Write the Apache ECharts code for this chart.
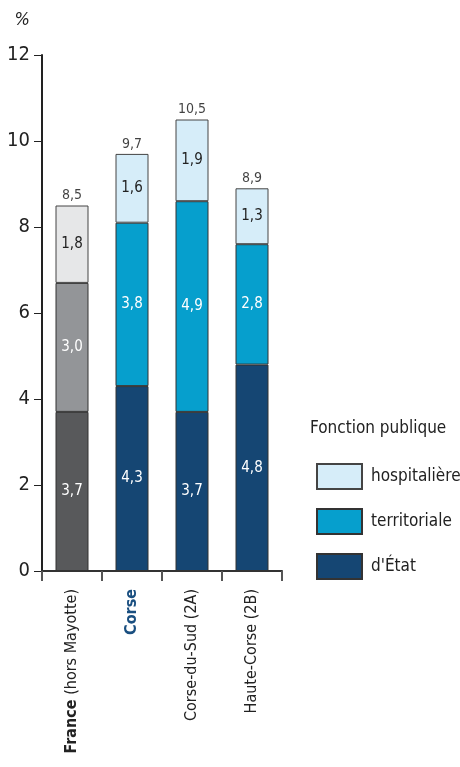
<!DOCTYPE html>
<html>
<head>
<meta charset="utf-8">
<script src="https://cdn.jsdelivr.net/npm/echarts@6/dist/echarts.min.js"></script>
<style>
html, body { margin: 0; padding: 0; background: #fff; }
#chart { width: 460px; height: 767px; }
</style>
</head>
<body>
<div id="chart"></div>
<script>
var categories = ['France (hors Mayotte)', 'Corse', 'Corse-du-Sud (2A)', 'Haute-Corse (2B)'];
var etatValues = [3.7, 4.3, 3.7, 4.8];
var territorialeValues = [3.0, 3.8, 4.9, 2.8];
var hospitaliereValues = [1.8, 1.6, 1.9, 1.3];
var totalValues = [8.5, 9.7, 10.5, 8.9];
var yTicks = [0, 2, 4, 6, 8, 10, 12];

var fontFam = "'Liberation Sans Narrow', 'DejaVu Sans Condensed', sans-serif";
var franceColors = ['#58595b', '#939598', '#e6e7e8'];

function fmt(v) {
    return String(v.toFixed(1)).replace('.', ',');
}

function makeData(values, idx) {
    return values.map(function (v, i) {
        if (i === 0) {
            return {
                value: v,
                itemStyle: { color: franceColors[idx] },
                label: { color: idx === 2 ? '#222' : '#fff' }
            };
        }
        return v;
    });
}

var chart = echarts.init(document.getElementById('chart'));
var option = {
    animation: false,
    textStyle: { fontFamily: fontFam },
    grid: {
        left: 42,
        right: 178,
        top: 55,
        bottom: 196,
        containLabel: false
    },
    legend: {
        orient: 'vertical',
        left: 311,
        top: 458,
        icon: 'rect',
        itemWidth: 45,
        itemHeight: 25,
        itemGap: 18,
        data: ['hospitalière', 'territoriale', "d'État"],
        textStyle: { fontFamily: fontFam, fontSize: 17, color: '#222', padding: [0, 0, 0, 4] },
        selectedMode: false
    },
    graphic: [{
        type: 'text',
        left: 310,
        top: 420,
        style: { text: 'Fonction publique', fontFamily: fontFam, fontSize: 17, fill: '#222' }
    }],
    xAxis: {
        type: 'category',
        data: categories,
        axisLine: { lineStyle: { color: '#333', width: 2 } },
        axisTick: { show: true, length: 10, lineStyle: { color: '#555', width: 2 } },
        axisLabel: {
            rotate: 90,
            margin: 18,
            fontSize: 16,
            color: '#222',
            fontFamily: fontFam,
            formatter: function (v) {
                if (v === 'Corse') return '{c|Corse}';
                if (v.indexOf('France') === 0) return '{b|France} (hors Mayotte)';
                return v;
            },
            rich: {
                b: { fontWeight: 'bold', fontSize: 16, color: '#222', fontFamily: fontFam },
                c: { fontWeight: 'bold', fontSize: 16, color: '#1a4f80', fontFamily: fontFam }
            }
        }
    },
    yAxis: {
        type: 'value',
        min: 0,
        max: 12,
        interval: 2,
        name: '%',
        nameLocation: 'end',
        nameGap: 26,
        nameTextStyle: { fontSize: 18, color: '#222', fontStyle: 'italic', align: 'right', padding: [0, 12, 0, 0], fontFamily: fontFam },
        axisLine: { show: true, lineStyle: { color: '#222', width: 2 } },
        axisTick: { show: true, length: 8, lineStyle: { color: '#222', width: 1 } },
        splitLine: { show: false },
        axisLabel: {
            margin: 12,
            fontSize: 20,
            color: '#222',
            fontFamily: fontFam,
            formatter: function (v) { return yTicks.indexOf(v) >= 0 ? String(v) : ''; }
        }
    },
    series: [{
        name: "d'État",
        type: 'bar',
        stack: 'fp',
        barWidth: 33,
        itemStyle: { color: '#154673', borderColor: '#333', borderWidth: 1 },
        label: { show: true, position: 'inside', color: '#fff', fontSize: 15, fontFamily: fontFam, formatter: function (p) { return fmt(p.value); } },
        data: makeData(etatValues, 0)
    }, {
        name: 'territoriale',
        type: 'bar',
        stack: 'fp',
        barWidth: 33,
        itemStyle: { color: '#069fcd', borderColor: '#333', borderWidth: 1 },
        label: { show: true, position: 'inside', color: '#fff', fontSize: 15, fontFamily: fontFam, formatter: function (p) { return fmt(p.value); } },
        data: makeData(territorialeValues, 1)
    }, {
        name: 'hospitalière',
        type: 'bar',
        stack: 'fp',
        barWidth: 33,
        itemStyle: { color: '#d6edf9', borderColor: '#444', borderWidth: 1 },
        label: { show: true, position: 'inside', color: '#222', fontSize: 15, fontFamily: fontFam, formatter: function (p) { return fmt(p.value); } },
        data: makeData(hospitaliereValues, 2)
    }, {
        name: 'total',
        type: 'scatter',
        symbolSize: 0,
        silent: true,
        label: { show: true, position: 'top', distance: 3, color: '#111', fontSize: 14, fontFamily: fontFam, formatter: function (p) { return fmt(p.value); } },
        data: totalValues
    }]
};
chart.setOption(option);
window.addEventListener('resize', function () { chart.resize(); });
</script>
</body>
</html>
